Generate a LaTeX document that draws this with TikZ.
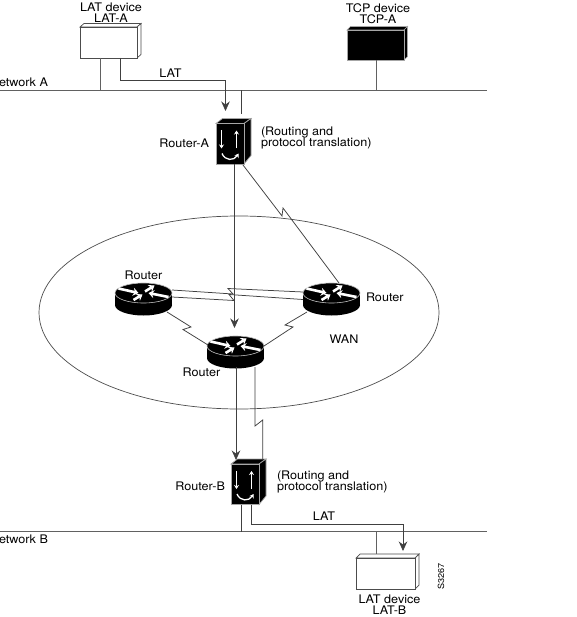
\documentclass[tikz,border=0pt]{standalone}
\usepackage{fontspec}
\setmainfont[FakeStretch=1.07]{TeX Gyre Heros}
\usetikzlibrary{arrows.meta,calc,shapes.geometric}
\tikzset{
  every node/.style={inner sep=0pt,outer sep=0pt},
  lab/.style={font=\fontsize{11.8}{10}\selectfont,text=black},
  stack/.style={lab,align=left},
  stackc/.style={lab,align=center},
  link/.style={draw=black!75,line width=0.75pt,line join=miter},
  net/.style={draw=black!62,line width=0.9pt},
  flow/.style={link,-{Stealth[length=9.5pt,width=8.5pt]}},
  face/.style={draw=black!70,line width=0.7pt,fill=white},
  darkface/.style={draw=black!35,line width=0.7pt,fill=black},
  whitearrow/.style={draw=white,line width=1.3pt,-{Stealth[length=4pt,width=5pt]}},
  discarrow/.style={draw=white,line width=2.6pt,-{Stealth[length=5.5pt,width=8pt]}},
}
% name, front x0, y0, x1, y1, depth x, depth y, style
\newcommand{\devbox}[8]{%
  \path[#8] (#2,#3) -- ($(#2,#3)+(#6,-#7)$) -- ($(#4,#3)+(#6,-#7)$) -- (#4,#3) -- cycle;
  \path[#8] (#4,#3) -- ($(#4,#3)+(#6,-#7)$) -- ($(#4,#5)+(#6,-#7)$) -- (#4,#5) -- cycle;
  \path[#8] (#2,#3) rectangle (#4,#5);
  \coordinate (#1nw) at (#2,#3);
  \coordinate (#1se) at (#4,#5);
}
% name, x0, y0 : translator box
\newcommand{\xlate}[3]{%
  \begin{scope}[shift={(#2,#3)}]
    \path[darkface] (0,0) -- (6.5,-5) -- (35,-5) -- (28,0) -- cycle;
    \path[darkface] (28,0) -- (35,-5) -- (35,32) -- (28,40.5) -- cycle;
    \path[darkface] (0,0) rectangle (28,40.5);
    \draw[whitearrow] (5.5,7) -- (5.5,25);
    \draw[whitearrow] (20.5,25) -- (20.5,7);
    \draw[whitearrow] (6,30) .. controls (9,37.5) and (18,37.5) .. (22.5,30);
    \coordinate (#1nw) at (0,0);
    \coordinate (#1se) at (28,40.5);
  \end{scope}
}
% name, cx, cy : router disc
\newcommand{\disc}[3]{%
  \begin{scope}[shift={(#2,#3)}]
    \fill[black] (0,12) ellipse [x radius=28.5pt,y radius=10.5pt];
    \fill[black] (-28.5,0) rectangle (28.5,12);
    \draw[draw=black!25,line width=0.6pt,fill=black] (0,0) ellipse [x radius=28.5pt,y radius=10pt];
    \draw[discarrow] (-25,-4.5) -- (-5,0);
    \draw[discarrow] (25,4) -- (5,0);
    \draw[discarrow] (-10,7) -- (-1,1.5);
    \draw[discarrow] (1.5,-1.5) -- (11,-7.5);
    \coordinate (#1) at (0,0);
  \end{scope}
}
\begin{document}
\begin{tikzpicture}[x=1pt,y=-1pt]
\lineskiplimit=-100pt
\useasboundingbox (0,0) rectangle (576,617);
\fill[white] (0,0) rectangle (576,617);

% WAN cloud outline
\node[draw=black!70,line width=0.7pt,ellipse,minimum width=400pt,minimum height=193pt] (wan) at (239,312.5) {};

% networks
\coordinate (naL) at (0,90.5); \coordinate (naR) at (487,90.5);
\coordinate (nbL) at (0,531.5); \coordinate (nbR) at (487,531.5);
\draw[net] (naL) -- (naR);
\draw[net] (nbL) -- (nbR);

% devices
\devbox{lata}{80}{27}{137}{58}{4}{3.5}{face}
\devbox{tcpa}{347}{30}{404}{60}{3.5}{3.5}{darkface}
\devbox{latb}{356}{558}{415}{589}{4}{4}{face}
\xlate{ra}{216}{123.5}
\xlate{rb}{231}{464}
\disc{rl}{143.5}{293}
\disc{rr}{331.5}{293}
\disc{rm}{235.5}{346}

% LAN attachments
\coordinate (a1) at (100,58); \coordinate (a2) at (100,90.5);
\draw[net] (a1) -- (a2);
\coordinate (t1) at (376,60); \coordinate (t2) at (376,90.5);
\draw[net] (t1) -- (t2);
\coordinate (r1) at (241.5,90.5); \coordinate (r2) at (241.5,114);
\draw[link] (r1) -- (r2);
\coordinate (b1) at (241.5,504.5); \coordinate (b2) at (241.5,531.5);
\draw[link] (b1) -- (b2);
\coordinate (l1) at (376,531.5); \coordinate (l2) at (376,554);
\draw[net] (l1) -- (l2);

% LAT flows
\coordinate (f1) at (120.5,58); \coordinate (f2) at (120.5,80); \coordinate (f3) at (225.5,80); \coordinate (f4) at (225.5,111);
\draw[flow] (f1) -- (f2) -- (f3) -- (f4);
\coordinate (g1) at (251,504.5); \coordinate (g2) at (251,524); \coordinate (g3) at (403,524); \coordinate (g4) at (403,551);
\draw[flow] (g1) -- (g2) -- (g3) -- (g4);
\coordinate (h1) at (234.5,164); \coordinate (h2) at (234.5,328);
\draw[flow] (h1) -- (h2);
\coordinate (i1) at (236,367); \coordinate (i2) at (236,460);
\draw[flow] (i1) -- (i2);

% serial links
\coordinate (s1) at (243,165); \coordinate (s2) at (282,216); \coordinate (s3) at (283,208); \coordinate (s4) at (339,283);
\draw[link] (s1) -- (s2) -- (s3) -- (s4);
\coordinate (u1) at (172,290); \coordinate (u2) at (233,294); \coordinate (u3) at (228,288.5); \coordinate (u4) at (303,292);
\draw[link] (u1) -- (u2) -- (u3) -- (u4);
\coordinate (v1) at (172,297); \coordinate (v2) at (234,300.5); \coordinate (v3) at (229,294.5); \coordinate (v4) at (303,299.5);
\draw[link] (v1) -- (v2) -- (v3) -- (v4);
\coordinate (w1) at (167,312); \coordinate (w2) at (191,327); \coordinate (w3) at (183,329.5); \coordinate (w4) at (208,345);
\draw[link] (w1) -- (w2) -- (w3) -- (w4);
\coordinate (y1) at (307,312); \coordinate (y2) at (285,325); \coordinate (y3) at (293,327); \coordinate (y4) at (264,346);
\draw[link] (y1) -- (y2) -- (y3) -- (y4);
\coordinate (z1) at (255,367); \coordinate (z2) at (255,426); \coordinate (z3) at (262.7,420); \coordinate (z4) at (262.7,459);
\draw[link] (z1) -- (z2) -- (z3) -- (z4);

% labels
\node[stackc] (t01) at (111,13) {LAT device\\[1pt]LAT-A};
\node[stackc] (t03) at (378,13.5) {TCP device\\[1pt]TCP-A};
\node[lab,anchor=east] (t05) at (48,82.5) {etwork A};
\node[lab] (t06) at (170.5,73.5) {LAT};
\node[lab,anchor=east] (t07) at (209,143.5) {Router-A};
\node[stack,anchor=west] (t08) at (261,138) {(Routing and\\[1.5pt]protocol translation)};
\node[lab] (t10) at (143.5,275.5) {Router};
\node[lab,anchor=west] (t11) at (366,297.5) {Router};
\node[lab] (t12) at (344,339) {WAN};
\node[lab] (t13) at (201.5,372.5) {Router};
\node[lab,anchor=east] (t14) at (225,486.5) {Router-B};
\node[stack,anchor=west] (t15) at (277,482) {(Routing and\\[1.5pt]protocol translation)};
\node[lab] (t17) at (324,516) {LAT};
\node[lab,anchor=east] (t18) at (48,539.5) {etwork B};
\node[stackc] (t19) at (389.5,605) {LAT device\\[1pt]LAT-B};
\node[font=\fontsize{8.5}{9}\selectfont,rotate=90] (t21) at (441,576.5) {S3267};
\end{tikzpicture}
\end{document}
